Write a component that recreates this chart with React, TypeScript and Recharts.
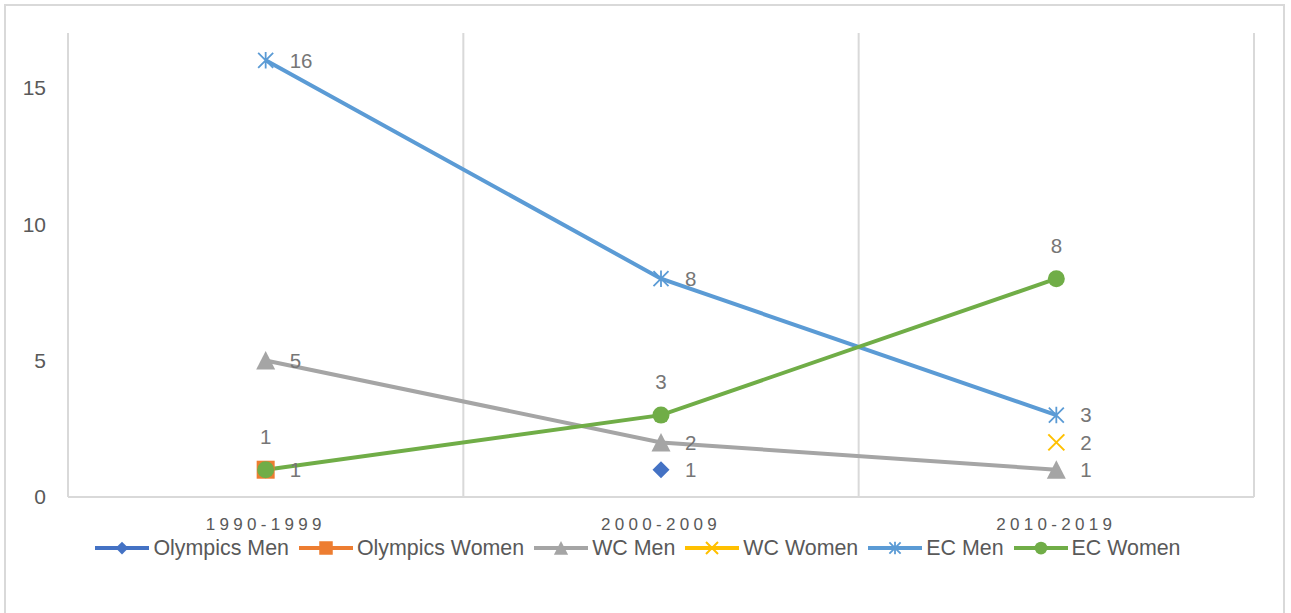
import React from 'react';
import { LineChart, Line, XAxis, YAxis, CartesianGrid, LabelList } from 'recharts';

const periods = ['1990-1999', '2000-2009', '2010-2019'];
const olympicsMen: (number | null)[] = [null, 1, null];
const olympicsWomen: (number | null)[] = [1, null, null];
const wcMen: (number | null)[] = [5, 2, 1];
const wcWomen: (number | null)[] = [null, null, 2];
const ecMen: (number | null)[] = [16, 8, 3];
const ecWomen: (number | null)[] = [1, 3, 8];
const yTicks = [0, 5, 10, 15];

type MarkerType = 'diamond' | 'square' | 'triangle' | 'x' | 'star' | 'circle';

const series: { key: string; name: string; values: (number | null)[]; color: string; marker: MarkerType; labelPos: 'right' | 'top' }[] = [
  { key: 'olympicsMen', name: 'Olympics Men', values: olympicsMen, color: '#4472C4', marker: 'diamond', labelPos: 'right' },
  { key: 'olympicsWomen', name: 'Olympics Women', values: olympicsWomen, color: '#ED7D31', marker: 'square', labelPos: 'right' },
  { key: 'wcMen', name: 'WC Men', values: wcMen, color: '#A5A5A5', marker: 'triangle', labelPos: 'right' },
  { key: 'wcWomen', name: 'WC Women', values: wcWomen, color: '#FFC000', marker: 'x', labelPos: 'right' },
  { key: 'ecMen', name: 'EC Men', values: ecMen, color: '#5B9BD5', marker: 'star', labelPos: 'right' },
  { key: 'ecWomen', name: 'EC Women', values: ecWomen, color: '#70AD47', marker: 'circle', labelPos: 'top' },
];

const data = periods.map((p, i) => {
  const row: Record<string, string | number | null> = { period: p };
  series.forEach((s) => {
    row[s.key] = s.values[i];
  });
  return row;
});

const FONT = "'Liberation Sans', Arial, sans-serif";
const TEXT = '#595959';
const LABEL = '#767676';
const GRID = '#D9D9D9';
const W = 1291;
const H = 613;
const MARGIN = { top: 33, right: 37, left: 0, bottom: 76 };
const Y_W = 68;
const X_H = 40;
const PLOT_W = W - MARGIN.left - MARGIN.right - Y_W;
const PAD = PLOT_W / 6;

function Marker({ type, cx, cy, color, s = 1 }: { type: MarkerType; cx: number; cy: number; color: string; s?: number }) {
  switch (type) {
    case 'diamond': {
      const r = 8.5 * s;
      return <path d={`M${cx},${cy - r}L${cx + r},${cy}L${cx},${cy + r}L${cx - r},${cy}Z`} fill={color} />;
    }
    case 'square': {
      const r = 9 * s;
      return <rect x={cx - r} y={cy - r} width={2 * r} height={2 * r} fill={color} />;
    }
    case 'triangle': {
      const r = 9.5 * s;
      return <path d={`M${cx},${cy - r}L${cx + r},${cy + r * 0.95}L${cx - r},${cy + r * 0.95}Z`} fill={color} />;
    }
    case 'x': {
      const r = 8 * s;
      return (
        <path d={`M${cx - r},${cy - r}L${cx + r},${cy + r}M${cx - r},${cy + r}L${cx + r},${cy - r}`} stroke={color} strokeWidth={2} fill="none" />
      );
    }
    case 'star': {
      const r = 7.5 * s;
      return (
        <path
          d={`M${cx - r},${cy - r}L${cx + r},${cy + r}M${cx - r},${cy + r}L${cx + r},${cy - r}M${cx},${cy - r * 1.1}L${cx},${cy + r * 1.1}`}
          stroke={color}
          strokeWidth={1.8}
          fill="none"
        />
      );
    }
    case 'circle':
    default:
      return <circle cx={cx} cy={cy} r={8.5 * s} fill={color} />;
  }
}

export default function App() {
  return (
    <div style={{ position: 'absolute', left: 0, top: 0, width: W, height: H, overflow: 'hidden', background: '#fff' }}>
      <div
        style={{
          position: 'absolute',
          left: 4,
          top: 4,
          width: 1281,
          height: H - 4,
          borderTop: `2px solid ${GRID}`,
          borderLeft: `2px solid ${GRID}`,
          borderRight: `2px solid ${GRID}`,
          boxSizing: 'border-box',
        }}
      />
      <div style={{ position: 'absolute', left: 0, top: 0 }}>
        <LineChart width={W} height={H} data={data} margin={MARGIN}>
          <CartesianGrid
            horizontal={false}
            stroke={GRID}
            strokeWidth={2}
            verticalCoordinatesGenerator={({ offset }: any) =>
              [0, 1, 2, 3].map((i) => offset.left + (i * offset.width) / periods.length)
            }
          />
          <XAxis
            dataKey="period"
            height={X_H}
            padding={{ left: PAD, right: PAD }}
            tickLine={false}
            tickSize={0}
            tickMargin={21}
            axisLine={{ stroke: GRID, strokeWidth: 2 }}
            tick={{ fill: TEXT, fontSize: 17, fontFamily: FONT, letterSpacing: 4.3 }}
            interval={0}
          />
          <YAxis
            width={Y_W}
            domain={[0, 17]}
            ticks={yTicks}
            axisLine={false}
            tickLine={false}
            tickSize={0}
            tickMargin={22}
            tick={{ fill: TEXT, fontSize: 21, fontFamily: FONT }}
          />
          {series.map((s) => (
            <Line
              key={s.key}
              dataKey={s.key}
              name={s.name}
              stroke={s.color}
              strokeWidth={4}
              isAnimationActive={false}
              connectNulls={false}
              dot={(p: any) => {
                const k = `${s.key}-${p.index}`;
                if (p.value == null || p.cx == null || p.cy == null) return <g key={k} />;
                return (
                  <g key={k}>
                    <Marker type={s.marker} cx={p.cx} cy={p.cy} color={s.color} />
                  </g>
                );
              }}
              activeDot={false}
            >
              <LabelList
                dataKey={s.key}
                position={s.labelPos}
                offset={s.labelPos === 'top' ? 26 : 24}
                fill={LABEL}
                fontSize={20.5}
                fontFamily={FONT}
              />
            </Line>
          ))}
        </LineChart>
      </div>
      <div
        style={{
          position: 'absolute',
          top: 536,
          left: 0,
          width: 1276,
          display: 'flex',
          justifyContent: 'center',
          alignItems: 'center',
          fontFamily: FONT,
          fontSize: 21.4,
          color: TEXT,
          lineHeight: '24px',
          whiteSpace: 'nowrap',
        }}
      >
        {series.map((s, i) => (
          <div key={s.key} style={{ display: 'flex', alignItems: 'center', marginRight: i === series.length - 1 ? 0 : 10 }}>
            <svg width={54} height={24} style={{ display: 'block' }}>
              <line x1={0} y1={12} x2={54} y2={12} stroke={s.color} strokeWidth={4} />
              <Marker type={s.marker} cx={27} cy={12} color={s.color} s={0.75} />
            </svg>
            <span style={{ marginLeft: 4 }}>{s.name}</span>
          </div>
        ))}
      </div>
    </div>
  );
}
